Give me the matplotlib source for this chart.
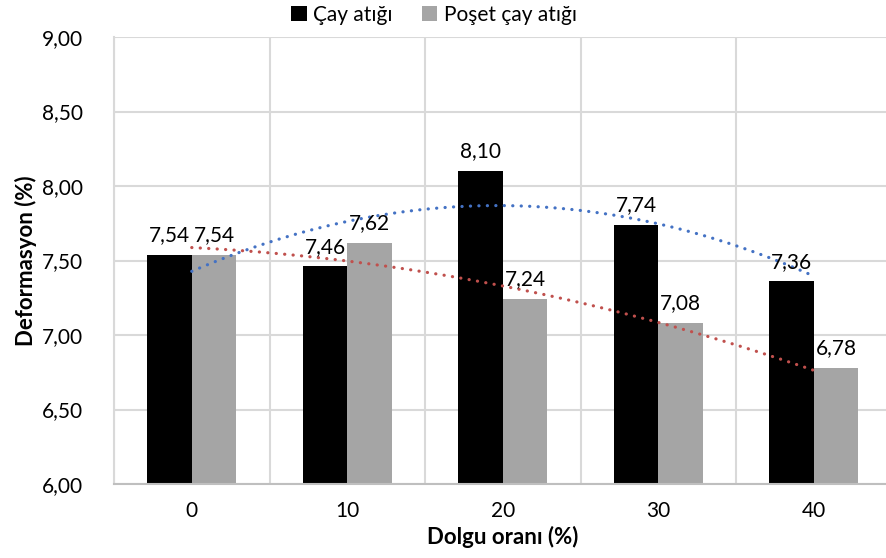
import numpy as np
import matplotlib.pyplot as plt

# Data
categories = ["0", "10", "20", "30", "40"]
cay = [7.54, 7.46, 8.10, 7.74, 7.36]
poset = [7.54, 7.62, 7.24, 7.08, 6.78]
labels = ["Çay atığı", "Poşet çay atığı"]

plt.rcParams['font.family'] = ['Lato', 'DejaVu Sans']

fig = plt.figure(figsize=(8.86, 5.58), dpi=100)
ax = fig.add_axes([114 / 886, 1 - 484 / 558, 777.5 / 886, 447 / 558])

x = np.arange(len(categories))
w = 0.286
b1 = ax.bar(x - w / 2, cay, w, color='black', label=labels[0], zorder=2)
b2 = ax.bar(x + w / 2, poset, w, color='#a5a5a5', label=labels[1], zorder=2)

# polynomial (order 2) trendlines, like Excel
xs = np.linspace(0, len(categories) - 1, 200)
for vals, col in [(cay, '#4472c4'), (poset, '#c0504d')]:
    p = np.polyfit(x, vals, 2)
    ax.plot(xs, np.polyval(p, xs), color=col, lw=2.3,
            linestyle=(0, (0.05, 2.6)), dash_capstyle='round', zorder=3)

# data labels
for bars, vals in [(b1, cay), (b2, poset)]:
    for rect, v in zip(bars, vals):
        ax.annotate(f"{v:.2f}".replace('.', ','),
                    (rect.get_x() + rect.get_width() / 2, v),
                    xytext=(0, 7), textcoords='offset points',
                    ha='center', va='bottom', fontsize=15, zorder=4)

ax.set_ylim(6, 9)
ax.set_yticks(np.arange(6, 9.01, 0.5))
ax.set_yticklabels([f"{t:.2f}".replace('.', ',') for t in np.arange(6, 9.01, 0.5)])
ax.set_xlim(-0.5, len(categories) - 0.5)
ax.set_xticks(x)
ax.set_xticklabels(categories)
ax.set_xticks(np.arange(-0.5, len(categories), 1), minor=True)

ax.grid(axis='y', color='#d9d9d9', lw=1.5, zorder=0)
ax.grid(axis='x', which='minor', color='#d9d9d9', lw=1.5, zorder=0)
ax.tick_params(which='both', length=0, labelsize=15)
ax.tick_params(axis='x', pad=12)
ax.tick_params(axis='y', pad=22)
for s in ['top', 'right']:
    ax.spines[s].set_visible(False)
ax.spines['left'].set_color('#d9d9d9')
ax.spines['left'].set_linewidth(1.5)
ax.spines['bottom'].set_color('#bfbfbf')
ax.spines['bottom'].set_linewidth(1.5)

ax.set_xlabel("Dolgu oranı (%)", fontsize=16, fontweight='bold', labelpad=4)
ax.set_ylabel("Deformasyon (%)", fontsize=16, fontweight='bold', labelpad=4)

fig.legend(handles=[b1, b2], labels=labels, loc='center', bbox_to_anchor=(434 / 886, 1 - 15 / 558),
           ncol=2, frameon=False, fontsize=15, handlelength=0.75, handleheight=0.75,
           handletextpad=0.3, columnspacing=1.4)

fig.savefig("out.png", dpi=100)
